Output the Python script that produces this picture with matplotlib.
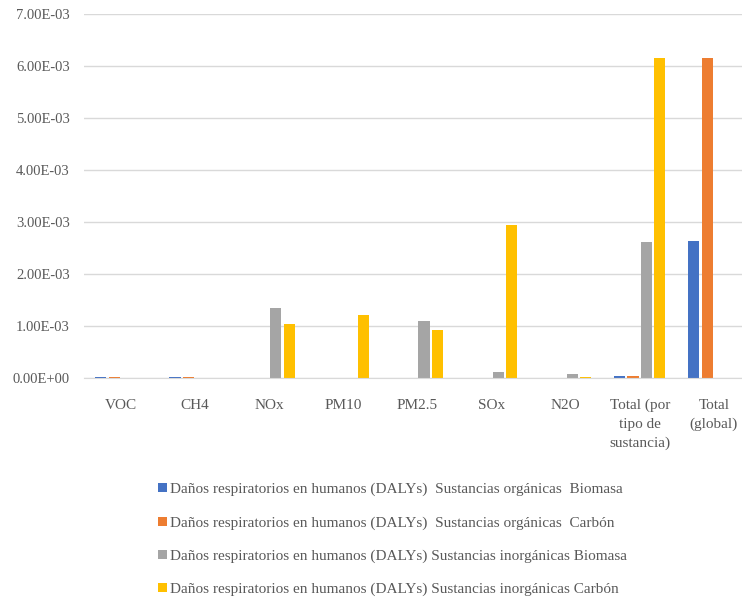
import numpy as np
import matplotlib.pyplot as plt
from matplotlib.ticker import FuncFormatter

plt.rcParams['font.family'] = ['Liberation Serif', 'DejaVu Serif']

categories = ['VOC', 'CH4', 'NOx', 'PM10', 'PM2.5', 'SOx', 'N2O',
              'Total (por\ntipo de\nsustancia)', 'Total\n(global)']

org_biomasa = [2.5e-5, 2.5e-5, 0, 0, 0, 0, 0, 3.0e-5, 2.64e-3]
org_carbon = [2.5e-5, 2.5e-5, 0, 0, 0, 0, 0, 3.0e-5, 6.15e-3]
inorg_biomasa = [0, 0, 1.34e-3, 1.0e-5, 1.09e-3, 0.12e-3, 0.07e-3, 2.62e-3, 0]
inorg_carbon = [0, 0, 1.04e-3, 1.22e-3, 0.92e-3, 2.95e-3, 0.02e-3, 6.15e-3, 0]

series = [
    ('Daños respiratorios en humanos (DALYs)  Sustancias orgánicas  Biomasa', org_biomasa, '#4472C4'),
    ('Daños respiratorios en humanos (DALYs)  Sustancias orgánicas  Carbón', org_carbon, '#ED7D31'),
    ('Daños respiratorios en humanos (DALYs) Sustancias inorgánicas Biomasa', inorg_biomasa, '#A5A5A5'),
    ('Daños respiratorios en humanos (DALYs) Sustancias inorgánicas Carbón', inorg_carbon, '#FFC000'),
]

txt = '#595959'
grid = '#d9d9d9'

fig = plt.figure(figsize=(7.42, 6.02), dpi=100)
ax = fig.add_axes([0.113, 0.372, 0.899, 0.605])

x = np.arange(len(categories))
step = 0.18
width = 0.15
for i, (name, vals, col) in enumerate(series):
    ax.bar(x + (i - 1.5) * step, vals, width, color=col, label=name, zorder=3)

ax.set_xlim(-0.5, len(categories) - 0.5)
ax.set_ylim(0, 7e-3)
ax.set_yticks(np.arange(0, 7.01e-3, 1e-3))
ax.yaxis.set_major_formatter(FuncFormatter(
    lambda v, p: '%.2E' % v if v != 0 else '0.00E+00'))
ax.set_xticks(x)
ax.set_xticklabels(categories, linespacing=1.55, va='top')
ax.tick_params(length=0, labelsize=11, colors=txt)
ax.tick_params(axis='x', pad=15)
ax.tick_params(axis='y', pad=10, labelsize=10.5)
ax.grid(axis='y', color=grid, lw=1, zorder=0)
for s in ['top', 'right', 'left']:
    ax.spines[s].set_visible(False)
ax.spines['bottom'].set_color(grid)
ax.spines['bottom'].set_zorder(4)

leg = fig.legend(loc='upper left', bbox_to_anchor=(0.205, 0.208),
                 frameon=False, fontsize=11, labelspacing=1.3,
                 handlelength=0.55, handleheight=0.55, handletextpad=0.25,
                 borderaxespad=0)
for t in leg.get_texts():
    t.set_color(txt)

fig.savefig('out.png', dpi=100)
